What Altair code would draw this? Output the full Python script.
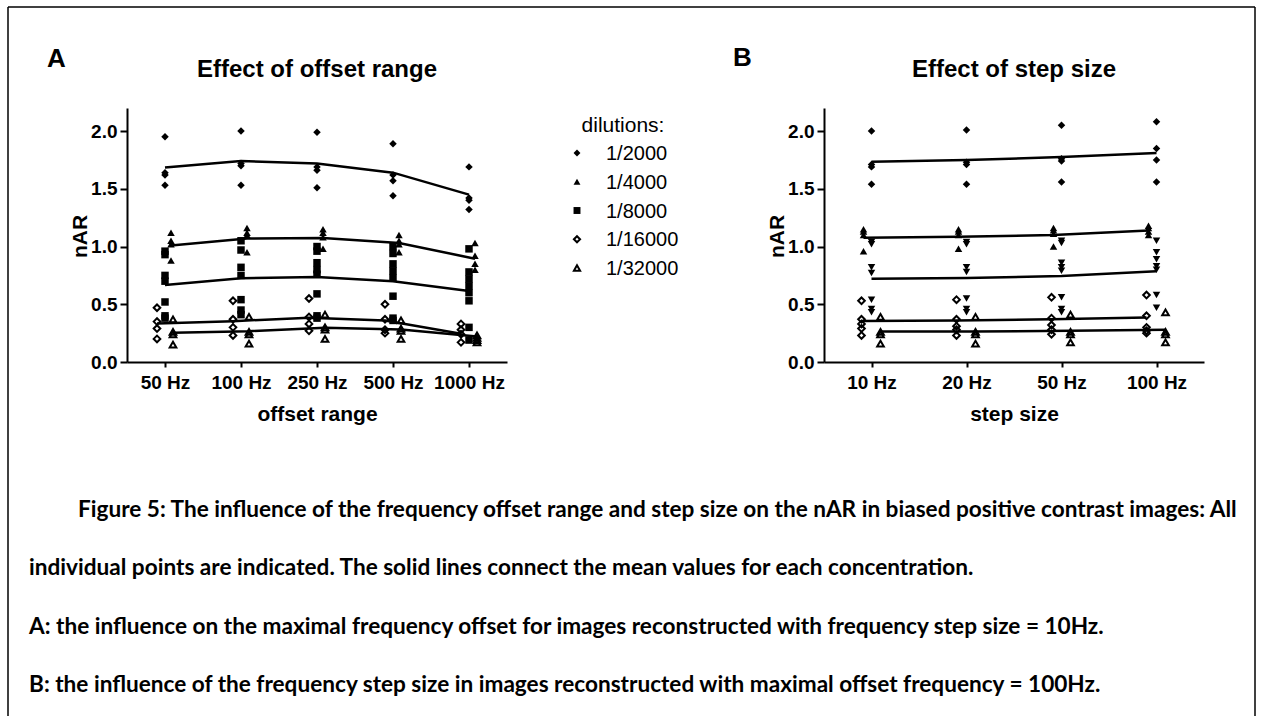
import altair as alt
import pandas as pd

dilutions = ["1/2000", "1/4000", "1/8000", "1/16000", "1/32000"]
offset_cats = ["50 Hz", "100 Hz", "250 Hz", "500 Hz", "1000 Hz"]
step_cats = ["10 Hz", "20 Hz", "50 Hz", "100 Hz"]

# ---- Panel A: individual points per category ----
a_2000 = [[1.95, 1.64, 1.62, 1.53], [2.00, 1.72, 1.70, 1.53], [1.99, 1.69, 1.66, 1.51],
          [1.89, 1.62, 1.57, 1.44], [1.69, 1.42, 1.40, 1.32]]
a_4000 = [[1.12, 1.05, 1.02, 0.88], [1.16, 1.12, 1.10, 0.95], [1.15, 1.12, 1.08, 0.98],
          [1.10, 1.05, 1.02, 0.95], [1.03, 0.92, 0.85, 0.80]]
a_8000 = [[0.96, 0.93, 0.75, 0.70, 0.52, 0.40, 0.38], [1.05, 0.97, 0.82, 0.75, 0.54, 0.45, 0.41],
          [1.00, 0.96, 0.86, 0.80, 0.76, 0.59, 0.40, 0.38], [1.00, 0.94, 0.85, 0.79, 0.73, 0.57, 0.38, 0.36],
          [0.98, 0.78, 0.72, 0.66, 0.60, 0.53, 0.30, 0.19]]
a_16000 = [[0.47, 0.35, 0.29, 0.20], [0.53, 0.37, 0.30, 0.23], [0.55, 0.39, 0.33, 0.27],
           [0.50, 0.37, 0.28, 0.25], [0.33, 0.28, 0.24, 0.17]]
a_32000 = [[0.37, 0.26, 0.24, 0.15], [0.39, 0.26, 0.24, 0.16], [0.41, 0.30, 0.28, 0.20],
           [0.36, 0.29, 0.27, 0.20], [0.23, 0.21, 0.19, 0.17]]

# mean lines, panel A
mean_a_2000 = [1.685, 1.74, 1.72, 1.64, 1.45]
mean_a_4000 = [1.01, 1.07, 1.075, 1.03, 0.895]
mean_a_8000 = [0.667, 0.725, 0.736, 0.70, 0.614]
mean_a_16000 = [0.334, 0.354, 0.383, 0.36, 0.245]
mean_a_32000 = [0.253, 0.267, 0.296, 0.282, 0.22]

# ---- Panel B ----
b_2000 = [[2.00, 1.71, 1.69, 1.54], [2.01, 1.73, 1.71, 1.54], [2.05, 1.76, 1.74, 1.56], [2.08, 1.85, 1.75, 1.56]]
b_4000 = [[1.15, 1.13, 1.10, 0.96], [1.15, 1.13, 1.10, 0.98], [1.16, 1.14, 1.11, 1.00], [1.18, 1.16, 1.13, 1.10]]
b_8000 = [[1.04, 1.02, 0.82, 0.77, 0.54, 0.46, 0.43], [1.04, 1.02, 0.82, 0.78, 0.55, 0.46, 0.43],
          [1.05, 1.03, 0.86, 0.82, 0.79, 0.56, 0.46, 0.43], [1.05, 0.95, 0.89, 0.83, 0.80, 0.58, 0.47]]
b_16000 = [[0.53, 0.37, 0.33, 0.29, 0.23], [0.54, 0.37, 0.31, 0.28, 0.23],
           [0.56, 0.38, 0.32, 0.28, 0.24], [0.58, 0.40, 0.30, 0.27, 0.25]]
b_32000 = [[0.39, 0.26, 0.24, 0.16], [0.39, 0.26, 0.24, 0.16], [0.41, 0.26, 0.24, 0.17], [0.43, 0.26, 0.24, 0.17]]

mean_b_2000 = [1.735, 1.75, 1.775, 1.81]
mean_b_4000 = [1.077, 1.085, 1.10, 1.14]
mean_b_8000 = [0.722, 0.728, 0.745, 0.785]
mean_b_16000 = [0.355, 0.36, 0.37, 0.385]
mean_b_32000 = [0.265, 0.265, 0.27, 0.28]

y_ticks = [0.0, 0.5, 1.0, 1.5, 2.0]

caption_lines = [
    "Figure 5: The influence of the frequency offset range and step size on the nAR in biased positive contrast images: All",
    "individual points are indicated. The solid lines connect the mean values for each concentration.",
    "A: the influence on the maximal frequency offset for images reconstructed with frequency step size = 10Hz.",
    "B: the influence of the frequency step size in images reconstructed with maximal offset frequency = 100Hz.",
]

# ---------------------------------------------------------------------
W, H = 1263, 716
AX_FONT = "Liberation Sans"
CAP_FONT = "Lato"


def long_points(cats, series):
    rows = []
    for cat, vals in zip(cats, series):
        for v in vals:
            rows.append({"cat": cat, "value": v})
    return pd.DataFrame(rows)


def long_means(cats, means):
    return pd.DataFrame({"cat": cats, "value": means})


def make_axes(title_x, title_y_text, x0, x1):
    xaxis = alt.Axis(
        title=title_x, orient="bottom", offset=362 - H, grid=False, labelAngle=0,
        labelFont=AX_FONT, labelFontSize=19, labelFontWeight="bold", labelColor="black",
        labelPadding=6, tickSize=5, tickWidth=2, tickColor="black",
        domainColor="black", domainWidth=2,
        titleFont=AX_FONT, titleFontSize=21, titleFontWeight="bold", titleColor="black",
        titleX=(x0 + x1) / 2, titleY=52, titleBaseline="middle", titleAlign="center",
    )
    yaxis = alt.Axis(
        title=title_y_text, orient="left", offset=-x0, grid=False, values=y_ticks, format=".1f",
        labelFont=AX_FONT, labelFontSize=19, labelFontWeight="bold", labelColor="black",
        labelPadding=3, tickSize=7, tickWidth=2, tickColor="black",
        domainColor="black", domainWidth=2,
        titleFont=AX_FONT, titleFontSize=21, titleFontWeight="bold", titleColor="black",
        titleX=-47, titleY=236, titleAngle=270, titleBaseline="middle", titleAlign="center",
    )
    return xaxis, yaxis


def panel(cats, series_list, means_list, x0, x1, offsets, shapes, fills, xtitle):
    xs = alt.Scale(type="point", domain=cats, range=[x0, x1], padding=0.5)
    ys = alt.Scale(domain=[0, 2.2], range=[362, 108], nice=False, zero=True)
    xaxis, yaxis = make_axes(xtitle, "nAR", x0, x1)
    layers = []
    for i in range(len(dilutions)):
        enc = dict(
            x=alt.X("cat:N", scale=xs, axis=xaxis),
            y=alt.Y("value:Q", scale=ys, axis=yaxis),
        )
        line = alt.Chart(long_means(cats, means_list[i])).mark_line(
            color="black", strokeWidth=2.5, xOffset=offsets[i]
        ).encode(**enc)
        if fills[i]:
            pts = alt.Chart(long_points(cats, series_list[i])).mark_point(
                shape=shapes[i], filled=True, color="black", size=56, opacity=1,
                xOffset=offsets[i]
            ).encode(**enc)
        else:
            pts = alt.Chart(long_points(cats, series_list[i])).mark_point(
                shape=shapes[i], filled=False, color="black", size=44, strokeWidth=2,
                opacity=1, xOffset=offsets[i]
            ).encode(**enc)
        layers += [line, pts]
    return alt.layer(*layers)


panelA = panel(offset_cats, [a_2000, a_4000, a_8000, a_16000, a_32000],
               [mean_a_2000, mean_a_4000, mean_a_8000, mean_a_16000, mean_a_32000],
               127, 507, [0, 6, 0, -8, 8],
               ["diamond", "triangle-up", "square", "diamond", "triangle-up"],
               [True, True, True, False, False], "offset range")
panelB = panel(step_cats, [b_2000, b_4000, b_8000, b_16000, b_32000],
               [mean_b_2000, mean_b_4000, mean_b_8000, mean_b_16000, mean_b_32000],
               824, 1204, [0, -8, 0, -10, 9],
               ["diamond", "triangle-up", "triangle-down", "diamond", "triangle-up"],
               [True, True, True, False, False], "step size")

one = pd.DataFrame({"k": [0]})


def text(label, x, y, size, weight="normal", font=AX_FONT, align="left", baseline="alphabetic"):
    return alt.Chart(one).mark_text(
        text=label, font=font, fontSize=size, fontWeight=weight, color="black",
        align=align, baseline=baseline
    ).encode(x=alt.value(x), y=alt.value(y))


annots = []
annots.append(text("A", 47, 67, 26, "bold"))
annots.append(text("B", 733, 66, 26, "bold"))
annots.append(text("Effect of offset range", 317, 77, 24, "bold", align="center"))
annots.append(text("Effect of step size", 1014, 77, 24, "bold", align="center"))

# legend
annots.append(text("dilutions:", 623, 132, 21, align="center"))
leg_shapes = ["diamond", "triangle-up", "square", "diamond", "triangle-up"]
leg_fill = [True, True, True, False, False]
for i, d in enumerate(dilutions):
    yb = 160 + i * 28.75
    annots.append(text(d, 606, yb, 20))
    if leg_fill[i]:
        m = alt.Chart(one).mark_point(shape=leg_shapes[i], filled=True, color="black", size=48, opacity=1)
    else:
        m = alt.Chart(one).mark_point(shape=leg_shapes[i], filled=False, color="black", size=38,
                                      strokeWidth=2, opacity=1)
    annots.append(m.encode(x=alt.value(577), y=alt.value(yb - 7)))

# caption
cap_x = [78, 29, 29, 29]
cap_y = [510, 568, 627, 685]
for t, cx, cy in zip(caption_lines, cap_x, cap_y):
    annots.append(text(t, cx, cy, 22.6, "bold", font=CAP_FONT, baseline="middle"))

# frame
frame = [
    alt.Chart(one).mark_rule(color="black", strokeWidth=1.5).encode(
        x=alt.value(8), y=alt.value(7), y2=alt.value(H)),
    alt.Chart(one).mark_rule(color="black", strokeWidth=1.5).encode(
        x=alt.value(1255), y=alt.value(7), y2=alt.value(H)),
    alt.Chart(one).mark_rule(color="black", strokeWidth=1.5).encode(
        x=alt.value(8), x2=alt.value(1255), y=alt.value(7)),
]

chart = alt.layer(panelA, panelB, *annots, *frame).resolve_scale(
    x="independent", y="independent"
).properties(
    width=W, height=H, autosize=alt.AutoSizeParams(type="none"), padding=0,
    background="white"
).configure_view(stroke=None)

chart.save("out.html", embed_options={"renderer": "svg", "actions": False})
